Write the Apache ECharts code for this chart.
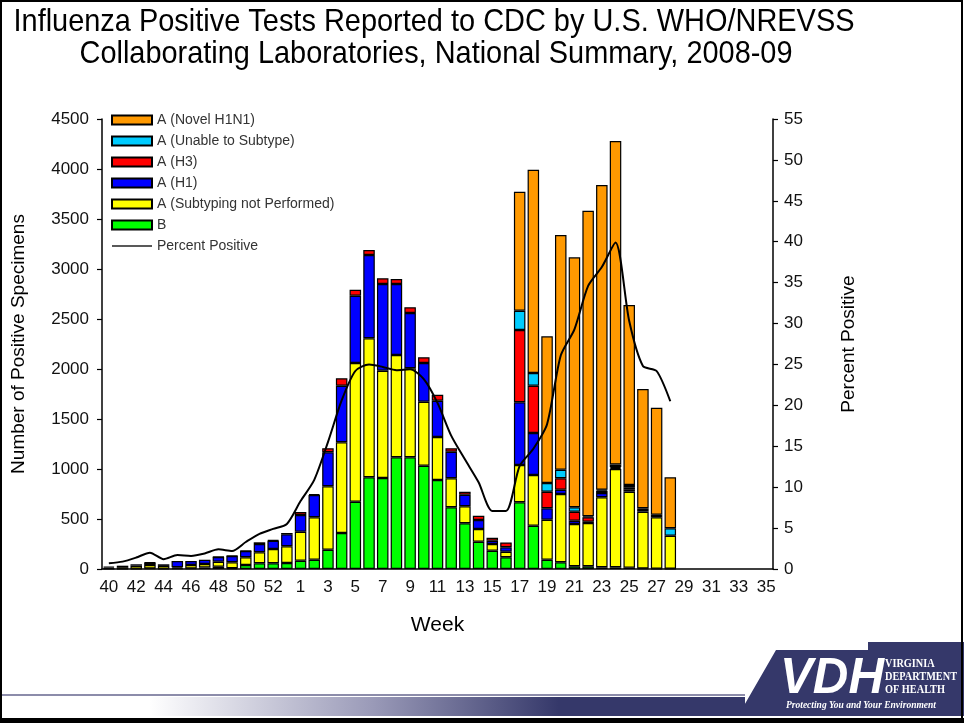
<!DOCTYPE html>
<html>
<head>
<meta charset="utf-8">
<script src="https://cdn.jsdelivr.net/npm/echarts@6/dist/echarts.min.js"></script>
<style>
html,body{margin:0;padding:0;background:#fff;}
#chart{width:964px;height:723px;}
</style>
</head>
<body>
<div id="chart"></div>
<script>
const weeks = ['40','41','42','43','44','45','46','47','48','49','50','51','52','53',
  '1','2','3','4','5','6','7','8','9','10','11','12','13','14','15','16','17','18','19','20',
  '21','22','23','24','25','26','27','28','29','30','31','32','33','34','35'];

const seriesNames = ['B','A (Subtyping not Performed)','A (H1)','A (H3)','A (Unable to Subtype)','A (Novel H1N1)'];

const fluB = [3,3,3,5,3,5,5,15,23,8,40,57,57,60,
  83,93,193,360,673,917,910,1117,1117,1033,890,617,457,273,183,117,667,433,93,67,
  27,27,17,17,13,5,3,3,null,null,null,null,null,null,null];

const aNotSubtyped = [12,15,30,35,28,12,35,35,50,59,77,110,143,167,
  290,424,634,907,1387,1390,1073,1023,890,640,430,290,170,127,67,56,373,507,400,683,
  423,433,700,983,760,568,514,330,null,null,null,null,null,null,null];

const aH1 = [10,15,14,22,16,63,40,43,47,63,63,83,83,120,
  167,223,340,566,673,833,867,710,553,387,363,266,116,90,33,44,627,420,114,43,
  33,13,43,10,20,17,13,null,null,null,null,null,null,null,null];

const aH3 = [null,null,null,5,null,null,null,null,3,3,3,17,7,13,
  30,10,40,74,60,50,57,50,57,57,60,34,30,43,30,48,723,473,166,114,
  90,44,23,10,24,17,13,null,null,null,null,null,null,null,null];

const aUnable = [null,null,null,null,null,null,null,null,null,null,null,null,null,null,
  null,null,null,null,null,null,null,null,null,null,null,null,null,null,null,null,193,127,87,86,
  44,10,10,25,23,null,null,74,null,null,null,null,null,null,null];

const aNovel = [null,null,null,null,null,null,null,null,null,null,null,null,null,null,
  null,null,null,null,null,null,null,null,null,null,null,null,null,null,null,null,1190,2033,1467,2347,
  2500,3056,3047,3235,1800,1193,1070,510,null,null,null,null,null,null,null];

const percentPositive = [0.7,0.9,1.4,2.0,1.2,1.7,1.6,1.9,2.4,2.2,3.3,4.3,4.9,5.5,
  8.3,10.9,15.5,20.6,24.2,25.0,24.7,24.3,24.4,23.2,20.3,16.3,13.4,10.6,7.1,7.1,12.6,14.7,17.7,26.1,
  29.3,34.6,36.9,39.9,30.3,24.8,24.2,20.5,null,null,null,null,null,null,null];

const leftTicks = {min:0, max:4500, interval:500};
const rightTicks = {min:0, max:55, interval:5};

const titleLine1 = 'Influenza Positive Tests Reported to CDC by U.S. WHO/NREVSS';
const titleLine2 = 'Collaborating Laboratories, National Summary, 2008-09';

const colors = ['#00ff00','#ffff00','#0000ff','#ff0000','#00ccff','#ff9900'];
const barData = [fluB, aNotSubtyped, aH1, aH3, aUnable, aNovel];

function textWidth(str, font){
  const c = document.createElement('canvas').getContext('2d');
  c.font = font; return c.measureText(str).width;
}
const tFont = '32px "Liberation Sans", Arial, sans-serif';
const s1 = 841 / textWidth(titleLine1, tFont);
const s2 = 713 / textWidth(titleLine2, tFont);
const vFont = 'italic bold 50px "Liberation Sans", Arial, sans-serif';
const sv = 104 / textWidth('VDH', vFont);
const dFont = 'bold 12px "Liberation Serif", serif';
const sd = 72 / textWidth('DEPARTMENT', dFont);
const pFont = 'italic bold 11px "Liberation Serif", serif';
const sp = 150 / textWidth('Protecting You and Your Environment', pFont);

const chart = echarts.init(document.getElementById('chart'), null, {renderer:'canvas'});

const series = barData.map((d,i)=>({
  name: seriesNames[i], type:'bar', stack:'total', data:d,
  barCategoryGap:'16%',
  itemStyle:{color:colors[i], borderColor:'#000', borderWidth:1.2},
  emphasis:{disabled:true}
}));
series.push({
  name:'Percent Positive', type:'line', yAxisIndex:1, data:percentPositive,
  symbol:'none', smooth:0.25, z:5,
  lineStyle:{color:'#000', width:2}, itemStyle:{color:'#000'},
  emphasis:{disabled:true}
});

const legendNames = ['A (Novel H1N1)','A (Unable to Subtype)','A (H3)','A (H1)','A (Subtyping not Performed)','B'];

const option = {
  animation:false,
  backgroundColor:'#fff',
  textStyle:{fontFamily:'"Liberation Sans", Arial, sans-serif'},
  grid:{left:102, right:191, top:119, bottom:154},
  legend:{
    orient:'vertical', left:106, top:108, itemWidth:40, itemHeight:9, itemGap:7,
    icon:'rect',
    data:legendNames.map(n=>({name:n})).concat([{name:'Percent Positive',
      icon:'path://M0,0 L40,0 L40,1.6 L0,1.6 Z', itemStyle:{color:'#222', borderWidth:0}}]),
    textStyle:{fontSize:14, color:'#333', fontFamily:'"Liberation Sans", Arial, sans-serif'},
    selectedMode:false
  },
  xAxis:{
    type:'category', data:weeks, boundaryGap:true,
    name:'Week', nameLocation:'middle', nameGap:46,
    nameTextStyle:{fontSize:21, color:'#000'},
    axisLine:{lineStyle:{color:'#000', width:1.5}},
    axisTick:{interval:0, length:5, lineStyle:{color:'#000', width:1.2}},
    axisLabel:{interval:1, fontSize:17, color:'#111', margin:10}
  },
  yAxis:[{
    type:'value', min:leftTicks.min, max:leftTicks.max, interval:leftTicks.interval,
    name:'Number of Positive Specimens', nameLocation:'middle', nameGap:74, nameRotate:90,
    nameTextStyle:{fontSize:19, color:'#000'},
    axisLine:{show:true, lineStyle:{color:'#000', width:1.5}},
    axisTick:{show:true, length:5, lineStyle:{color:'#000', width:1.2}},
    axisLabel:{fontSize:17, color:'#111', margin:13, formatter:v=>String(v)},
    splitLine:{show:false}
  },{
    type:'value', min:rightTicks.min, max:rightTicks.max, interval:rightTicks.interval,
    position:'right',
    name:'Percent Positive', nameLocation:'middle', nameGap:66, nameRotate:90,
    nameTextStyle:{fontSize:19, color:'#000'},
    axisLine:{show:true, lineStyle:{color:'#000', width:1.5}},
    axisTick:{show:true, length:5, lineStyle:{color:'#000', width:1.2}},
    axisLabel:{fontSize:17, color:'#111', margin:11, formatter:v=>String(v)},
    splitLine:{show:false}
  }],
  series:series,
  graphic:[
    {type:'text', x:434, y:22, scaleX:s1, silent:true,
      style:{text:titleLine1, font:tFont, fill:'#000', align:'center', verticalAlign:'middle'}},
    {type:'text', x:436, y:54, scaleX:s2, silent:true,
      style:{text:titleLine2, font:tFont, fill:'#000', align:'center', verticalAlign:'middle'}},
    {type:'rect', shape:{x:0, y:694, width:745, height:2}, silent:true,
      style:{fill:'#8c8caa'}},
    {type:'rect', shape:{x:0, y:697, width:745, height:19}, silent:true,
      style:{fill:new echarts.graphic.LinearGradient(0,0,1,0,[
        {offset:0, color:'#ffffff'},{offset:0.2, color:'#ffffff'},
        {offset:0.5, color:'#9a9ab8'},{offset:0.75, color:'#35386a'},{offset:1, color:'#35386a'}])}},
    {type:'polygon', silent:true,
      shape:{points:[[738,716],[776,650],[868,650],[868,642],[964,642],[964,716]]},
      style:{fill:'#35386a'}},
    {type:'text', x:832, y:679, scaleX:sv, silent:true,
      style:{text:'VDH', font:vFont, fill:'#fff', align:'center', verticalAlign:'middle'}},
    {type:'text', x:885, y:664, scaleX:sd, silent:true,
      style:{text:'VIRGINIA', font:dFont, fill:'#fff', align:'left', verticalAlign:'middle'}},
    {type:'text', x:885, y:677, scaleX:sd, silent:true,
      style:{text:'DEPARTMENT', font:dFont, fill:'#fff', align:'left', verticalAlign:'middle'}},
    {type:'text', x:885, y:690, scaleX:sd, silent:true,
      style:{text:'OF HEALTH', font:dFont, fill:'#fff', align:'left', verticalAlign:'middle'}},
    {type:'text', x:786, y:705, scaleX:sp, silent:true,
      style:{text:'Protecting You and Your Environment', font:pFont, fill:'#fff', align:'left', verticalAlign:'middle'}},
    {type:'rect', shape:{x:1, y:1, width:961, height:719}, silent:true, z:100,
      style:{fill:null, stroke:'#000', lineWidth:2}},
    {type:'rect', shape:{x:0, y:718, width:964, height:5}, silent:true, z:100,
      style:{fill:'#000'}}
  ]
};
chart.setOption(option);
</script>
</body>
</html>
